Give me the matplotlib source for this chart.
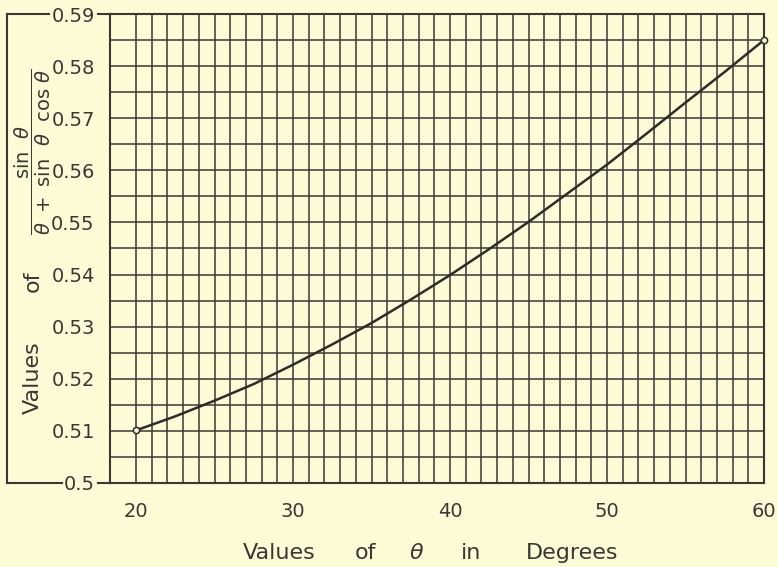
import matplotlib
matplotlib.use("Agg")
import matplotlib.pyplot as plt
from matplotlib.lines import Line2D
from matplotlib.ticker import MultipleLocator

# Angle in degrees and value of sin(t) / (t + sin(t) cos(t))
theta_deg = [20, 22.5, 25, 27.5, 30, 32.5, 35, 37.5, 40, 42.5, 45, 47.5, 50, 52.5, 55, 57.5, 60]
ratio = [0.5101, 0.5128, 0.5158, 0.5190, 0.5227, 0.5266, 0.5307, 0.5352, 0.5399,
         0.5449, 0.5501, 0.5556, 0.5611, 0.5670, 0.5730, 0.5789, 0.5850]

x_ticks = [20, 30, 40, 50, 60]
x_tick_labels = ["20", "30", "40", "50", "60"]
y_ticks = [0.50, 0.51, 0.52, 0.53, 0.54, 0.55, 0.56, 0.57, 0.58, 0.59]
y_tick_labels = ["0.5", "0.51", "0.52", "0.53", "0.54", "0.55", "0.56", "0.57", "0.58", "0.59"]

BG = "#fbfbd6"
INK = "#3a3836"

plt.rcParams["font.family"] = ["DejaVu Sans"]
plt.rcParams["mathtext.fontset"] = "dejavusans"

W, H = 778, 567
fig = plt.figure(figsize=(W / 100, H / 100), dpi=100, facecolor=BG)
ax = fig.add_axes([110 / W, 1 - 483 / H, 654 / W, 469 / H])
ax.set_facecolor(BG)

ax.set_xlim(18.34, 60)
ax.set_ylim(0.50, 0.59)

ax.set_xticks(x_ticks)
ax.set_xticklabels(x_tick_labels)
ax.set_xticks([v for v in range(20, 61)], minor=True)
ax.set_yticks(y_ticks)
ax.set_yticklabels(y_tick_labels)
ax.yaxis.set_minor_locator(MultipleLocator(0.005))

ax.tick_params(which="both", length=0, colors=INK, labelsize=14)
ax.tick_params(axis="x", pad=14)
ax.tick_params(axis="y", pad=11)

ax.grid(which="both", color=INK, linewidth=1.1)
ax.set_axisbelow(True)
for s in ax.spines.values():
    s.set_color(INK)
    s.set_linewidth(1.5)

# Curve and its end points
ax.plot(theta_deg, ratio, color="#2e2c2a", linewidth=1.8, zorder=3)
ax.plot([theta_deg[0], theta_deg[-1]], [ratio[0], ratio[-1]], linestyle="none",
        marker="o", markersize=4.5, markerfacecolor=BG, markeredgecolor="#2e2c2a",
        markeredgewidth=1.1, zorder=4, clip_on=False)

# Bracket joining the top and bottom tick labels along the left margin
fig.canvas.draw()
renderer = fig.canvas.get_renderer()
labels = ax.get_yticklabels()
bx = 7 / W
to_fig = fig.transFigure.inverted()
ax_left = ax.get_position().x0
for lab, yv in [(labels[0], y_ticks[0]), (labels[-1], y_ticks[-1])]:
    bb = lab.get_window_extent(renderer).transformed(to_fig)
    yf = to_fig.transform(ax.transData.transform((0, yv)))[1]
    fig.add_artist(Line2D([bx, bb.x0 - 2 / W], [yf, yf], color=INK, lw=1.5))
    fig.add_artist(Line2D([bb.x1 + 3 / W, ax_left], [yf, yf], color=INK, lw=1.5))
y_top = to_fig.transform(ax.transData.transform((0, y_ticks[-1])))[1]
y_bot = to_fig.transform(ax.transData.transform((0, y_ticks[0])))[1]
fig.add_artist(Line2D([bx, bx], [y_bot, y_top], color=INK, lw=1.5))

# Vertical axis title
for word, yc in [("Values", 378), ("of", 281)]:
    fig.text(33 / W, 1 - yc / H, word, rotation=90, ha="center", va="center",
             fontsize=16, color=INK)
fig.text(33 / W, 1 - 152 / H,
         r"$\dfrac{\mathrm{sin}\ \ \theta}{\theta\ +\ \mathrm{sin}\ \ \theta\ \ \mathrm{cos}\ \theta}$",
         rotation=90, ha="center", va="center", fontsize=14, color=INK)

# Horizontal axis title, word by word
for word, xc in [("Values", 279), ("of", 366), (r"$\theta$", 417), ("in", 471), ("Degrees", 572)]:
    fig.text(xc / W, 1 - 553 / H, word, ha="center", va="center", fontsize=16, color=INK)

fig.savefig("out.png", dpi=100, facecolor=BG)
